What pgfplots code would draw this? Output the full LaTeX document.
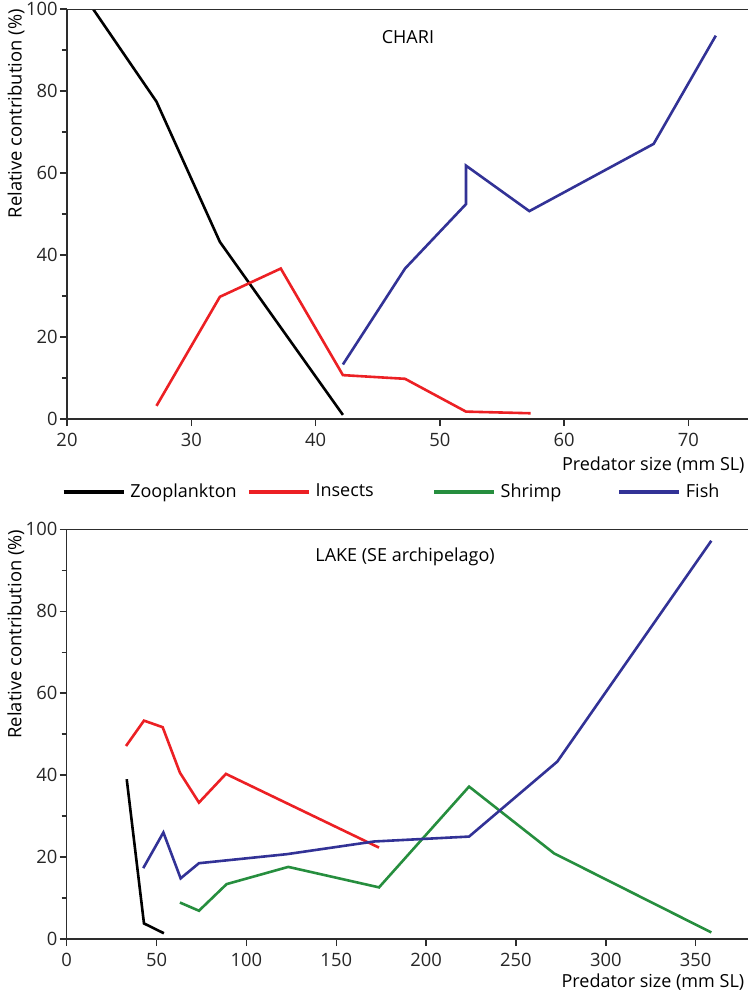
\documentclass[border=0pt]{standalone}
\usepackage{pgfplots}
\pgfplotsset{compat=1.18}
\usepackage{fontspec}
\setmainfont{Open Sans}

\definecolor{zooc}{RGB}{0,0,0}
\definecolor{insc}{RGB}{236,32,36}
\definecolor{shrc}{RGB}{38,142,62}
\definecolor{fishc}{RGB}{50,50,150}
\definecolor{axc}{RGB}{45,45,45}

\pgfplotsset{
  panel/.style={
    scale only axis,
    axis x line*=bottom,
    axis y line*=left,
    axis line style={axc, line width=0.7pt},
    every tick/.style={axc, line width=0.7pt},
    tick align=outside,
    major tick length=3.5pt,
    minor tick length=2.5pt,
    ymin=0, ymax=100,
    ytick={0,20,...,100},
    minor ytick={10,30,...,90},
    tick label style={font=\fontsize{9.2}{11}\selectfont, text=black!85},
    /pgf/number format/assume math mode=true,
    yticklabel style={inner sep=1pt},
    every axis y label/.style={at={(axis description cs:-0.0746,1.0)}, rotate=90, anchor=east,
      inner sep=0pt, font=\fontsize{9.2}{11}\selectfont},
    every axis x label/.style={at={(axis description cs:0.9918,-0.112)}, anchor=east,
      inner sep=0pt, font=\fontsize{9}{11}\selectfont},
    ylabel={Relative contribution (\%)},
    xlabel={Predator size (mm SL)},
    legend image code/.code={\draw[#1, line width=1.6pt] (0pt,0pt) -- (30pt,0pt);},
  },
  series/.style={line width=1.3pt, #1, line join=miter},
}

\begin{document}
\begin{tikzpicture}[font=\fontsize{9}{11}\selectfont]
\path[use as bounding box] (0,0) rectangle (374pt,496.5pt);

% CHARI river
\begin{axis}[panel,
  at={(33.5pt,287pt)}, anchor=south west,
  width=341.8pt, height=205pt,
  xmin=20, xmax=75,
  xtick={20,30,...,70},
]
\addplot[series=zooc] coordinates {(22.1,100) (27.2,77.4) (32.3,43.2) (42.2,1.0)};
\addplot[series=insc] coordinates {(27.2,3.2) (32.3,29.8) (37.2,36.7) (42.2,10.7) (47.2,9.8) (52.1,1.8) (57.3,1.4)};
\addplot[series=fishc] coordinates {(42.2,13.3) (47.2,36.7) (52.1,52.4) (52.1,61.8) (57.2,50.7) (67.2,67.1) (72.2,93.5)};
\draw[axc, line width=0.7pt] (rel axis cs:0,1) -- (rel axis cs:1,1);
\node[anchor=west, inner sep=0pt] at (axis cs:45.3,93.2) {CHARI};
\end{axis}

% Lake, SE archipelago
\begin{axis}[panel,
  at={(33.35pt,27pt)}, anchor=south west,
  width=341.45pt, height=204.85pt,
  xmin=0, xmax=380,
  xtick={0,50,...,350},
  every axis x label/.style={at={(axis description cs:0.9927,-0.106)}, anchor=east,
      inner sep=0pt, font=\fontsize{9}{11}\selectfont},
  legend columns=4,
  legend style={draw=none, fill=none, inner sep=0pt,
    at={(axis description cs:-0.0073,1.0910)}, anchor=west,
    nodes={inner sep=0pt, font=\fontsize{9}{11}\selectfont},
    /tikz/every odd column/.append style={column sep=2.5pt},
    /tikz/every even column/.append style={column sep=0pt}},
]
\addplot[series=zooc] coordinates {(33.4,39.0) (43.0,3.8) (54.1,1.4)};
\addlegendentry{\makebox[58.5pt][l]{Zooplankton}}
\addplot[series=insc] coordinates {(33.0,47.1) (43.0,53.3) (53.4,51.7) (63.0,40.6) (73.6,33.3) (88.6,40.3) (173.8,22.3)};
\addlegendentry{\makebox[58.5pt][l]{Insects}}
\addplot[series=shrc] coordinates {(63.0,8.9) (73.6,6.9) (89.0,13.4) (123.3,17.6) (173.8,12.6) (223.9,37.2) (271.2,20.9) (358.7,1.6)};
\addlegendentry{\makebox[58.5pt][l]{Shrimp}}
\addplot[series=fishc] coordinates {(42.6,17.3) (53.8,26.0) (63.4,14.8) (73.6,18.5) (122.4,20.7) (171.0,23.8) (223.9,25.0) (273.0,43.3) (358.7,97.2)};
\addlegendentry{\makebox[58.5pt][l]{Fish}}
\draw[axc, line width=0.7pt] (rel axis cs:0,1) -- (rel axis cs:1,1);
\node[anchor=west, inner sep=0pt] at (axis cs:138.2,93.2) {LAKE (SE archipelago)};
\end{axis}
\end{tikzpicture}
\end{document}
